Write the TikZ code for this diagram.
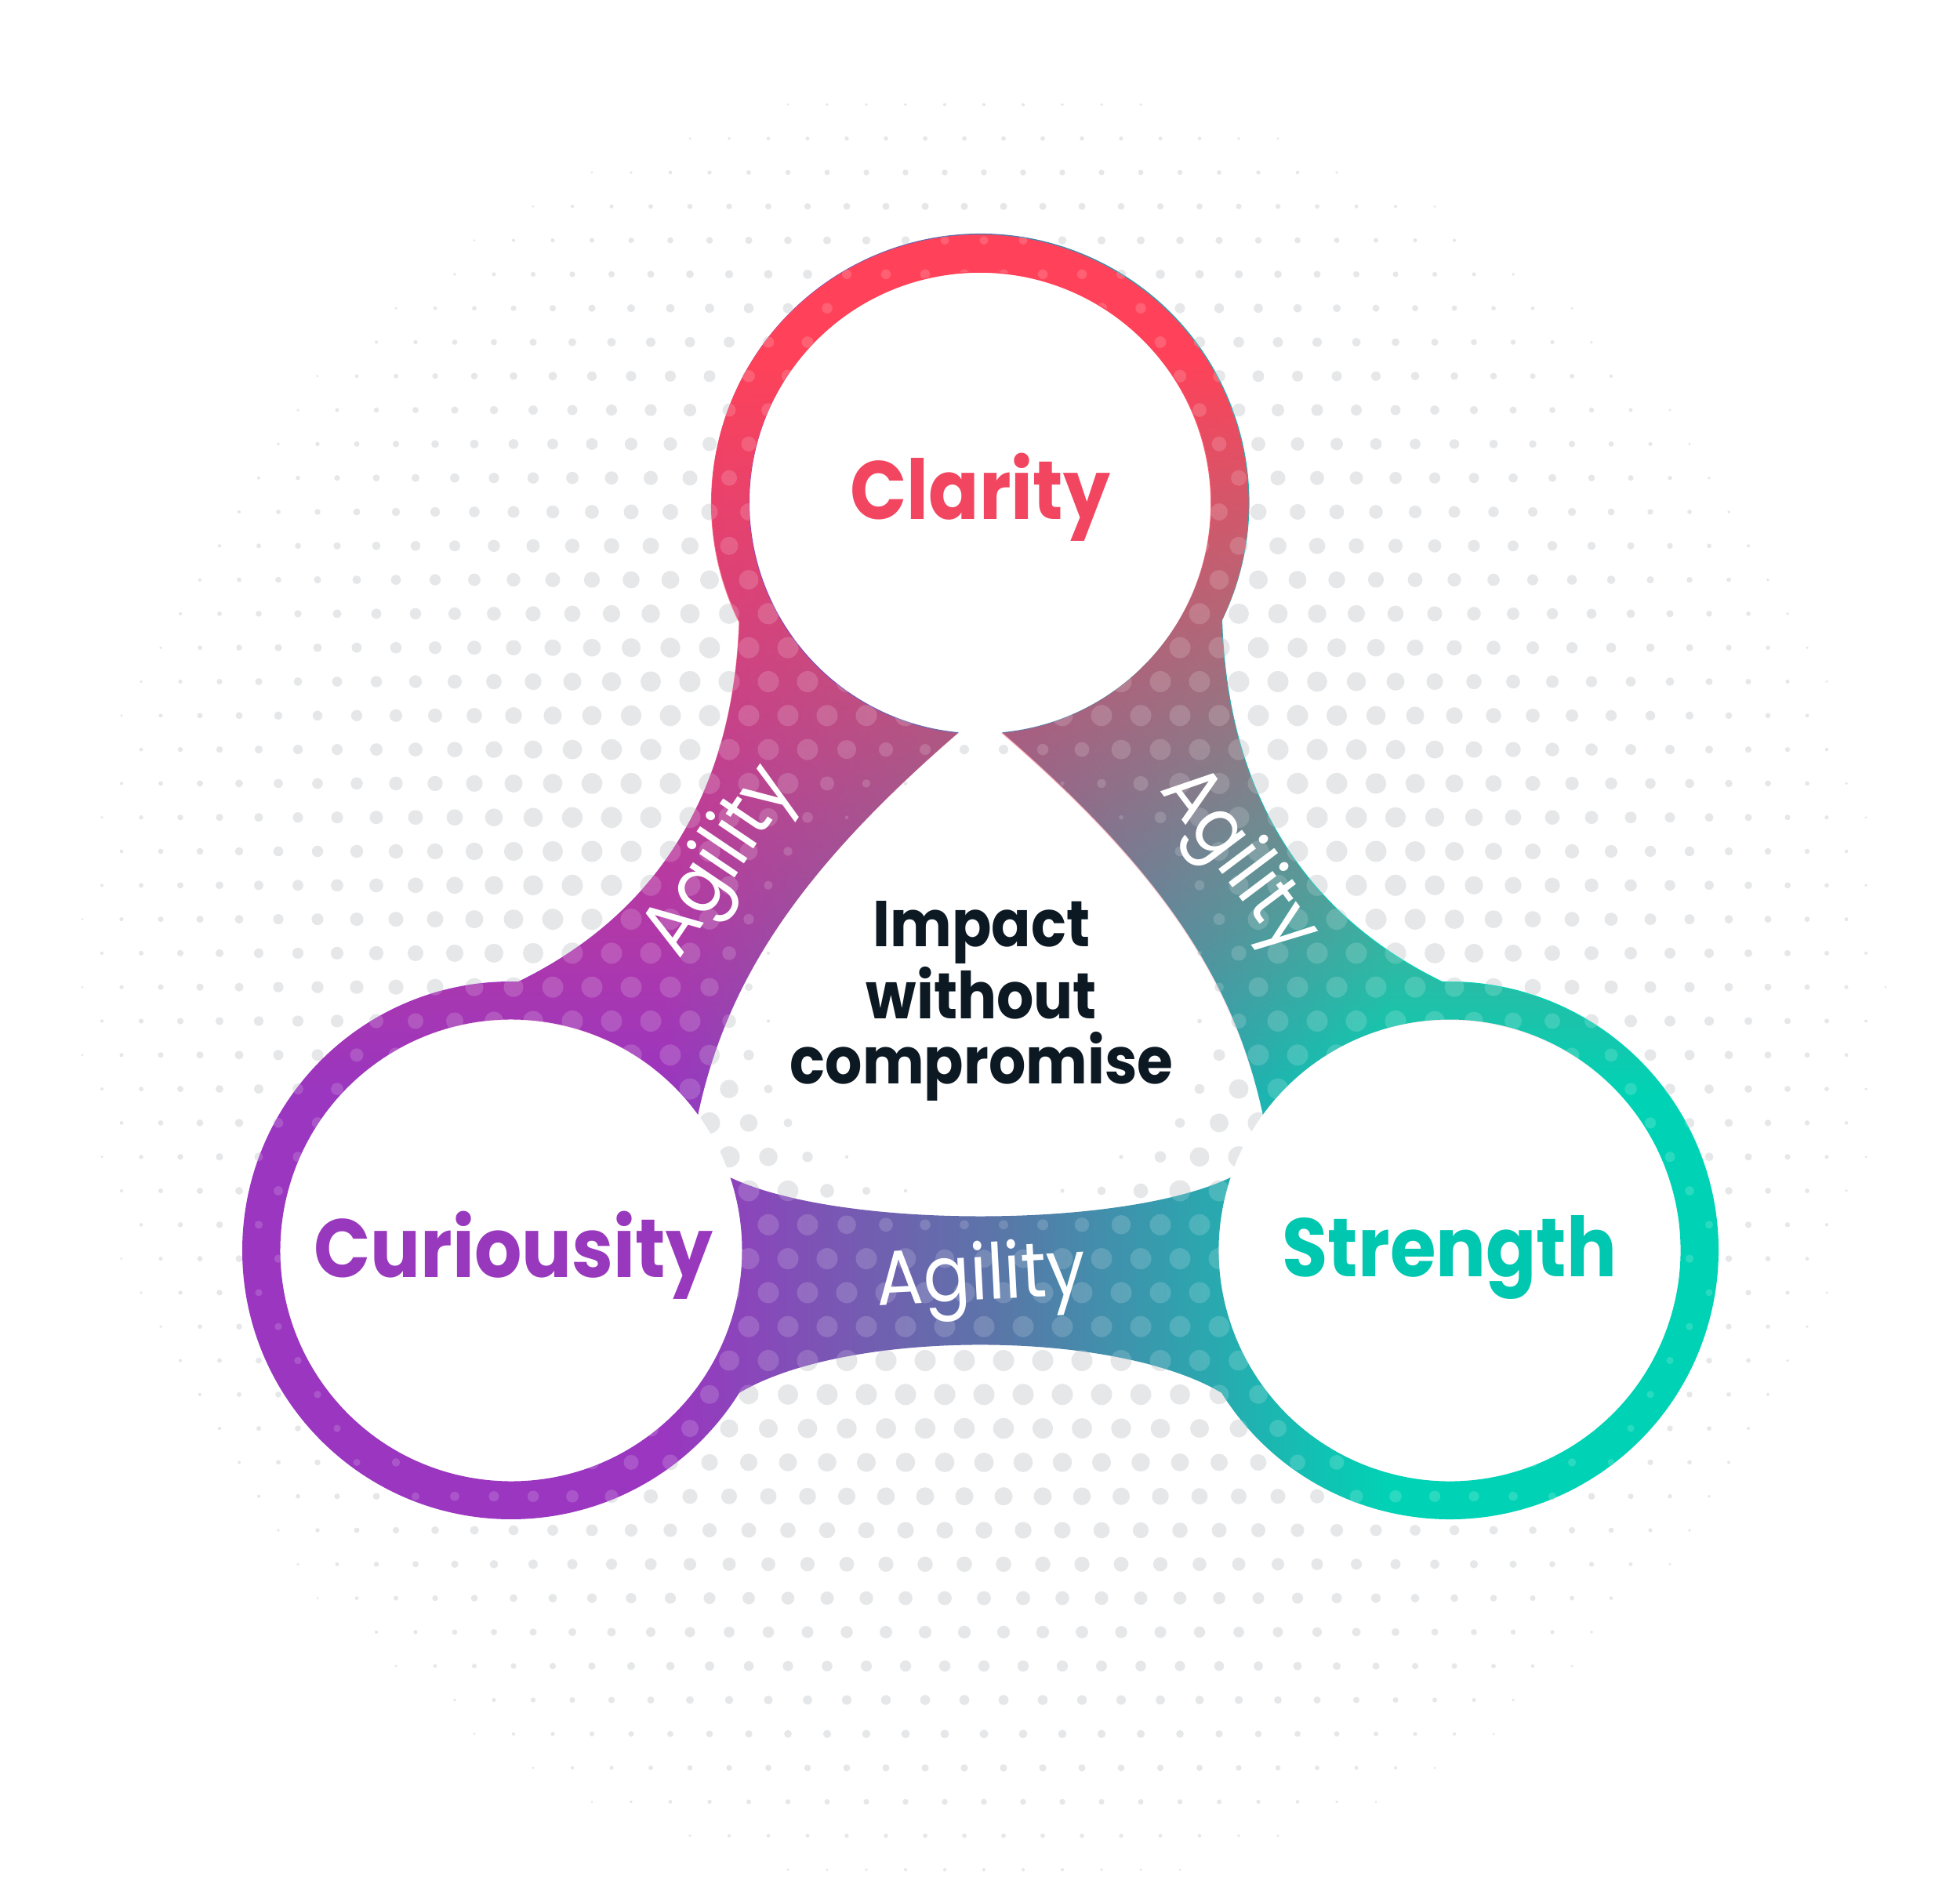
\documentclass[tikz,border=0pt]{standalone}
\usepackage{fontspec}
\setmainfont{Poppins}[FakeStretch=0.9]
\usetikzlibrary{calc,fadings}

\definecolor{clarityred}{HTML}{FF4259}
\definecolor{curpurple}{HTML}{9A36C0}
\definecolor{midblue}{HTML}{5A76A8}
\definecolor{strteal}{HTML}{00D3B5}
\definecolor{dotgray}{HTML}{E6E7E9}
\definecolor{claritytxt}{HTML}{F24560}
\definecolor{curiotxt}{HTML}{9839BD}
\definecolor{strengthtxt}{HTML}{00C7B0}
\definecolor{navy}{HTML}{0C1923}
\definecolor{maskoff}{gray}{0}
\definecolor{maskon}{gray}{1}

% colour along the band, left to right
\pgfdeclarehorizontalshading{bandhue}{100bp}{color(0bp)=(curpurple); color(39bp)=(curpurple); color(50bp)=(midblue); color(63bp)=(strteal); color(100bp)=(strteal)}
% pink from the top, gone by the lower rings
\pgfdeclareverticalshading{pinkmask}{100bp}{color(0bp)=(maskoff); color(42bp)=(maskoff); color(69bp)=(maskon); color(100bp)=(maskon)}
\pgfdeclarefading{pinkfade}{\pgfuseshading{pinkmask}}

\tikzset{
  lbl/.style={font=\fontsize{30}{32}\selectfont\bfseries, anchor=base},
  agility/.style={font=\fontsize{28}{30}\selectfont, text=white},
}

% halftone dots, bigger round the middle
\newcommand\halftone[1]{%
  \foreach \j in {0,...,54}{%
    \foreach \i in {0,...,48}{%
      \pgfmathsetmacro\px{0.55+\i*0.5+mod(\j,2)*0.25}%
      \pgfmathsetmacro\py{0.3+\j*0.433}%
      \pgfmathsetmacro\dd{veclen(\px-12.52,\py-11.55)}%
      \pgfmathsetmacro\rr{0.135*min(1,max(0,\dd-2.6))*min(1,max(0,(12.3-\dd)/6.8))}%
      \ifdim\rr pt>0.015pt \fill[#1] (\px,\py) circle[radius=\rr];\fi
    }%
  }%
}

\begin{document}
\begin{tikzpicture}
\useasboundingbox[fill=white] (0,0) rectangle (25,24.15);
\coordinate (clarity) at (12.505,17.74);
\coordinate (curio) at (6.52,8.20);
\coordinate (strength) at (18.49,8.20);

% background dots
\halftone{dotgray}

% white insides of the rings
\foreach \c in {clarity,curio,strength}
  \fill[white] (\c) circle[radius=2.945];

% rings and the three agility bands, one even-odd path
\def\bandoutline{
  ($(clarity)+(-25.9:3.43)$) arc[start angle=-25.9,end angle=206.3,radius=3.43]
  .. controls (9.35,13.95) and (8.30,12.45) .. ($(curio)+(88.5:3.43)$)
  arc[start angle=88.5,end angle=328,radius=3.43]
  .. controls (10.80,7.20) and (14.21,7.20) .. ($(strength)+(212:3.43)$)
  arc[start angle=212,end angle=451.5,radius=3.43]
  .. controls (16.71,12.45) and (15.66,13.95) .. ($(clarity)+(-25.9:3.43)$) -- cycle
  ($(clarity)+(-84.6:2.945)$) arc[start angle=-84.6,end angle=264.6,radius=2.945]
  .. controls (10.10,12.97) and (9.25,11.55) .. ($(curio)+(36:2.945)$)
  arc[start angle=36,end angle=378.4,radius=2.945]
  .. controls (10.70,8.47) and (14.31,8.47) .. ($(strength)+(161.6:2.945)$)
  arc[start angle=161.6,end angle=504,radius=2.945]
  .. controls (15.76,11.55) and (14.91,12.97) .. ($(clarity)+(-84.6:2.945)$) -- cycle}
\shade[shading=bandhue, even odd rule] \bandoutline;
\fill[clarityred, path fading=pinkfade, even odd rule] \bandoutline;
\begin{scope}[even odd rule]
  \clip \bandoutline;
  \halftone{white, opacity=0.16}
\end{scope}

\node[lbl, text=claritytxt] (claritylbl) at ([yshift=-2.2mm]clarity) {Clarity};
\node[lbl, text=curiotxt] (curiolbl) at ([xshift=0.3mm, yshift=-3.4mm]curio) {Curiousity};
\node[lbl, text=strengthtxt] (strengthlbl) at ([yshift=-3.3mm]strength) {Strength};

\node[font=\fontsize{23.5}{23.5}\selectfont\bfseries, text=navy, align=center] (impact) at (12.52,11.38) {Impact\\without\\compromise};

\node[agility, rotate=56] (agileleft) at (9.21,13.15) {Agility};
\node[agility, rotate=-53] (agileright) at (15.78,13.15) {Agility};
\node[agility, rotate=3] (agilebottom) at (12.52,7.81) {Agility};
\end{tikzpicture}
\end{document}
